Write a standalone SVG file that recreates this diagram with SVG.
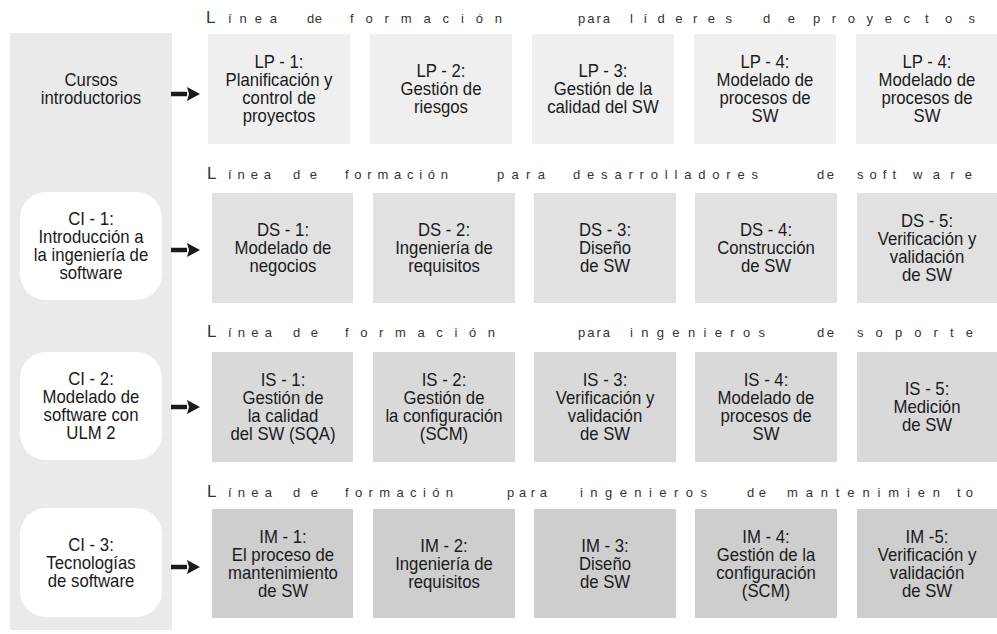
<svg xmlns="http://www.w3.org/2000/svg" width="997" height="634" viewBox="0 0 997 634">
<defs>
<style>
.bg{fill:#ffffff}
.panel{fill:#eaeaeb}
.ci{fill:#ffffff}
.r1{fill:#efeff0}
.r2{fill:#e1e1e2}
.r3{fill:#d9d9da}
.r4{fill:#cececf}
.t{font-family:"Liberation Sans",Arial,sans-serif;font-size:18px;fill:#1a1a1a;text-anchor:middle}
.h{font-family:"Liberation Sans",Arial,sans-serif;font-size:13px;fill:#333333}
.hL{font-size:17px}
.arr{stroke:#1a1a1a;stroke-width:4.5;fill:none}
</style>
<marker id="head" markerUnits="userSpaceOnUse" viewBox="0 0 13 14" refX="0" refY="7" markerWidth="13" markerHeight="14" orient="auto">
<path d="M0,0 L13,7 L0,14 L2,7 Z" fill="#1a1a1a"/>
</marker>
</defs>
<rect class="bg" x="0" y="0" width="997" height="634"/>

<g id="headers">
<text class="h" y="23"><tspan class="hL" x="206">L</tspan><tspan x="228" textLength="49" lengthAdjust="spacing">ínea</tspan><tspan x="307" textLength="15" lengthAdjust="spacing">de</tspan><tspan x="350" textLength="152" lengthAdjust="spacing">formación</tspan><tspan x="578" textLength="32" lengthAdjust="spacing">para</tspan><tspan x="630" textLength="102" lengthAdjust="spacing">líderes</tspan><tspan x="763" textLength="32" lengthAdjust="spacing">de</tspan><tspan x="813" textLength="97" lengthAdjust="spacing">proyec</tspan><tspan x="925" textLength="50" lengthAdjust="spacing">tos</tspan></text>
<text class="h" y="179"><tspan class="hL" x="207">L</tspan><tspan x="228" textLength="43" lengthAdjust="spacing">ínea</tspan><tspan x="293" textLength="24" lengthAdjust="spacing">de</tspan><tspan x="345" textLength="103" lengthAdjust="spacing">formación</tspan><tspan x="497" textLength="48" lengthAdjust="spacing">para</tspan><tspan x="573" textLength="185" lengthAdjust="spacing">desarrolladores</tspan><tspan x="817" textLength="17" lengthAdjust="spacing">de</tspan><tspan x="857" textLength="39" lengthAdjust="spacing">soft</tspan><tspan x="913" textLength="59" lengthAdjust="spacing">ware</tspan></text>
<text class="h" y="337"><tspan class="hL" x="207">L</tspan><tspan x="228" textLength="44" lengthAdjust="spacing">ínea</tspan><tspan x="293" textLength="25" lengthAdjust="spacing">de</tspan><tspan x="345" textLength="150" lengthAdjust="spacing">formación</tspan><tspan x="578" textLength="32" lengthAdjust="spacing">para</tspan><tspan x="630" textLength="135" lengthAdjust="spacing">ingenieros</tspan><tspan x="817" textLength="17" lengthAdjust="spacing">de</tspan><tspan x="857" textLength="116" lengthAdjust="spacing">soporte</tspan></text>
<text class="h" y="497"><tspan class="hL" x="207">L</tspan><tspan x="228" textLength="44" lengthAdjust="spacing">ínea</tspan><tspan x="293" textLength="25" lengthAdjust="spacing">de</tspan><tspan x="345" textLength="108" lengthAdjust="spacing">formación</tspan><tspan x="507" textLength="40" lengthAdjust="spacing">para</tspan><tspan x="580" textLength="127" lengthAdjust="spacing">ingenieros</tspan><tspan x="747" textLength="19" lengthAdjust="spacing">de</tspan><tspan x="787" textLength="153" lengthAdjust="spacing">mantenimien</tspan><tspan x="957" textLength="16" lengthAdjust="spacing">to</tspan></text>
</g>

<g id="intro">
<rect class="panel" x="10" y="33" width="162" height="597"/>
<text class="t" transform="translate(91,0) scale(0.93,1)"><tspan x="0" y="86">Cursos</tspan><tspan x="0" y="104">introductorios</tspan></text>
</g>
<g id="ci1">
<rect class="ci" x="20" y="192" width="142" height="108" rx="26"/>
<text class="t" transform="translate(91,0) scale(0.93,1)"><tspan x="0" y="225">CI - 1:</tspan><tspan x="0" y="243">Introducción a</tspan><tspan x="0" y="261">la ingeniería de</tspan><tspan x="0" y="279">software</tspan></text>
</g>
<g id="ci2">
<rect class="ci" x="20" y="352" width="142" height="108" rx="26"/>
<text class="t" transform="translate(91,0) scale(0.93,1)"><tspan x="0" y="385">CI - 2:</tspan><tspan x="0" y="403">Modelado de</tspan><tspan x="0" y="421">software con</tspan><tspan x="0" y="439">ULM 2</tspan></text>
</g>
<g id="ci3">
<rect class="ci" x="20" y="508" width="142" height="109" rx="26"/>
<text class="t" transform="translate(91,0) scale(0.93,1)"><tspan x="0" y="551">CI - 3:</tspan><tspan x="0" y="569">Tecnologías</tspan><tspan x="0" y="587">de software</tspan></text>
</g>

<g id="lp1"><rect class="r1" x="208" y="34" width="142" height="110"/><text class="t" transform="translate(279,0) scale(0.93,1)"><tspan x="0" y="68">LP - 1:</tspan><tspan x="0" y="86">Planificación y</tspan><tspan x="0" y="104">control de</tspan><tspan x="0" y="122">proyectos</tspan></text></g>
<g id="lp2"><rect class="r1" x="370" y="34" width="142" height="110"/><text class="t" transform="translate(441,0) scale(0.93,1)"><tspan x="0" y="77">LP - 2:</tspan><tspan x="0" y="95">Gestión de</tspan><tspan x="0" y="113">riesgos</tspan></text></g>
<g id="lp3"><rect class="r1" x="532" y="34" width="142" height="110"/><text class="t" transform="translate(603,0) scale(0.93,1)"><tspan x="0" y="77">LP - 3:</tspan><tspan x="0" y="95">Gestión de la</tspan><tspan x="0" y="113">calidad del SW</tspan></text></g>
<g id="lp4"><rect class="r1" x="694" y="34" width="142" height="110"/><text class="t" transform="translate(765,0) scale(0.93,1)"><tspan x="0" y="68">LP - 4:</tspan><tspan x="0" y="86">Modelado de</tspan><tspan x="0" y="104">procesos de</tspan><tspan x="0" y="122">SW</tspan></text></g>
<g id="lp5"><rect class="r1" x="856" y="34" width="142" height="110"/><text class="t" transform="translate(927,0) scale(0.93,1)"><tspan x="0" y="68">LP - 4:</tspan><tspan x="0" y="86">Modelado de</tspan><tspan x="0" y="104">procesos de</tspan><tspan x="0" y="122">SW</tspan></text></g>

<g id="ds1"><rect class="r2" x="212" y="193" width="141" height="110"/><text class="t" transform="translate(283,0) scale(0.93,1)"><tspan x="0" y="236">DS - 1:</tspan><tspan x="0" y="254">Modelado de</tspan><tspan x="0" y="272">negocios</tspan></text></g>
<g id="ds2"><rect class="r2" x="373" y="193" width="142" height="110"/><text class="t" transform="translate(444,0) scale(0.93,1)"><tspan x="0" y="236">DS - 2:</tspan><tspan x="0" y="254">Ingeniería de</tspan><tspan x="0" y="272">requisitos</tspan></text></g>
<g id="ds3"><rect class="r2" x="534" y="193" width="142" height="110"/><text class="t" transform="translate(605,0) scale(0.93,1)"><tspan x="0" y="236">DS - 3:</tspan><tspan x="0" y="254">Diseño</tspan><tspan x="0" y="272">de SW</tspan></text></g>
<g id="ds4"><rect class="r2" x="695" y="193" width="142" height="110"/><text class="t" transform="translate(766,0) scale(0.93,1)"><tspan x="0" y="236">DS - 4:</tspan><tspan x="0" y="254">Construcción</tspan><tspan x="0" y="272">de SW</tspan></text></g>
<g id="ds5"><rect class="r2" x="857" y="193" width="141" height="110"/><text class="t" transform="translate(927,0) scale(0.93,1)"><tspan x="0" y="227">DS - 5:</tspan><tspan x="0" y="245">Verificación y</tspan><tspan x="0" y="263">validación</tspan><tspan x="0" y="281">de SW</tspan></text></g>

<g id="is1"><rect class="r3" x="212" y="352" width="141" height="110"/><text class="t" transform="translate(283,0) scale(0.93,1)"><tspan x="0" y="386">IS - 1:</tspan><tspan x="0" y="404">Gestión de</tspan><tspan x="0" y="422">la calidad</tspan><tspan x="0" y="440">del SW (SQA)</tspan></text></g>
<g id="is2"><rect class="r3" x="373" y="352" width="142" height="110"/><text class="t" transform="translate(444,0) scale(0.93,1)"><tspan x="0" y="386">IS - 2:</tspan><tspan x="0" y="404">Gestión de</tspan><tspan x="0" y="422">la configuración</tspan><tspan x="0" y="440">(SCM)</tspan></text></g>
<g id="is3"><rect class="r3" x="534" y="352" width="142" height="110"/><text class="t" transform="translate(605,0) scale(0.93,1)"><tspan x="0" y="386">IS - 3:</tspan><tspan x="0" y="404">Verificación y</tspan><tspan x="0" y="422">validación</tspan><tspan x="0" y="440">de SW</tspan></text></g>
<g id="is4"><rect class="r3" x="695" y="352" width="142" height="110"/><text class="t" transform="translate(766,0) scale(0.93,1)"><tspan x="0" y="386">IS - 4:</tspan><tspan x="0" y="404">Modelado de</tspan><tspan x="0" y="422">procesos de</tspan><tspan x="0" y="440">SW</tspan></text></g>
<g id="is5"><rect class="r3" x="857" y="352" width="141" height="110"/><text class="t" transform="translate(927,0) scale(0.93,1)"><tspan x="0" y="395">IS - 5:</tspan><tspan x="0" y="413">Medición</tspan><tspan x="0" y="431">de SW</tspan></text></g>

<g id="im1"><rect class="r4" x="212" y="509" width="141" height="109"/><text class="t" transform="translate(283,0) scale(0.93,1)"><tspan x="0" y="543">IM - 1:</tspan><tspan x="0" y="561">El proceso de</tspan><tspan x="0" y="579">mantenimiento</tspan><tspan x="0" y="597">de SW</tspan></text></g>
<g id="im2"><rect class="r4" x="373" y="509" width="142" height="109"/><text class="t" transform="translate(444,0) scale(0.93,1)"><tspan x="0" y="552">IM - 2:</tspan><tspan x="0" y="570">Ingeniería de</tspan><tspan x="0" y="588">requisitos</tspan></text></g>
<g id="im3"><rect class="r4" x="534" y="509" width="142" height="109"/><text class="t" transform="translate(605,0) scale(0.93,1)"><tspan x="0" y="552">IM - 3:</tspan><tspan x="0" y="570">Diseño</tspan><tspan x="0" y="588">de SW</tspan></text></g>
<g id="im4"><rect class="r4" x="695" y="509" width="142" height="109"/><text class="t" transform="translate(766,0) scale(0.93,1)"><tspan x="0" y="543">IM - 4:</tspan><tspan x="0" y="561">Gestión de la</tspan><tspan x="0" y="579">configuración</tspan><tspan x="0" y="597">(SCM)</tspan></text></g>
<g id="im5"><rect class="r4" x="857" y="509" width="141" height="109"/><text class="t" transform="translate(927,0) scale(0.93,1)"><tspan x="0" y="543">IM -5:</tspan><tspan x="0" y="561">Verificación y</tspan><tspan x="0" y="579">validación</tspan><tspan x="0" y="597">de SW</tspan></text></g>

<g id="connectors">
<line class="arr" x1="171" y1="94" x2="187" y2="94" marker-end="url(#head)"/>
<line class="arr" x1="171" y1="250" x2="187" y2="250" marker-end="url(#head)"/>
<line class="arr" x1="171" y1="407" x2="187" y2="407" marker-end="url(#head)"/>
<line class="arr" x1="171" y1="567" x2="187" y2="567" marker-end="url(#head)"/>
</g>
</svg>
